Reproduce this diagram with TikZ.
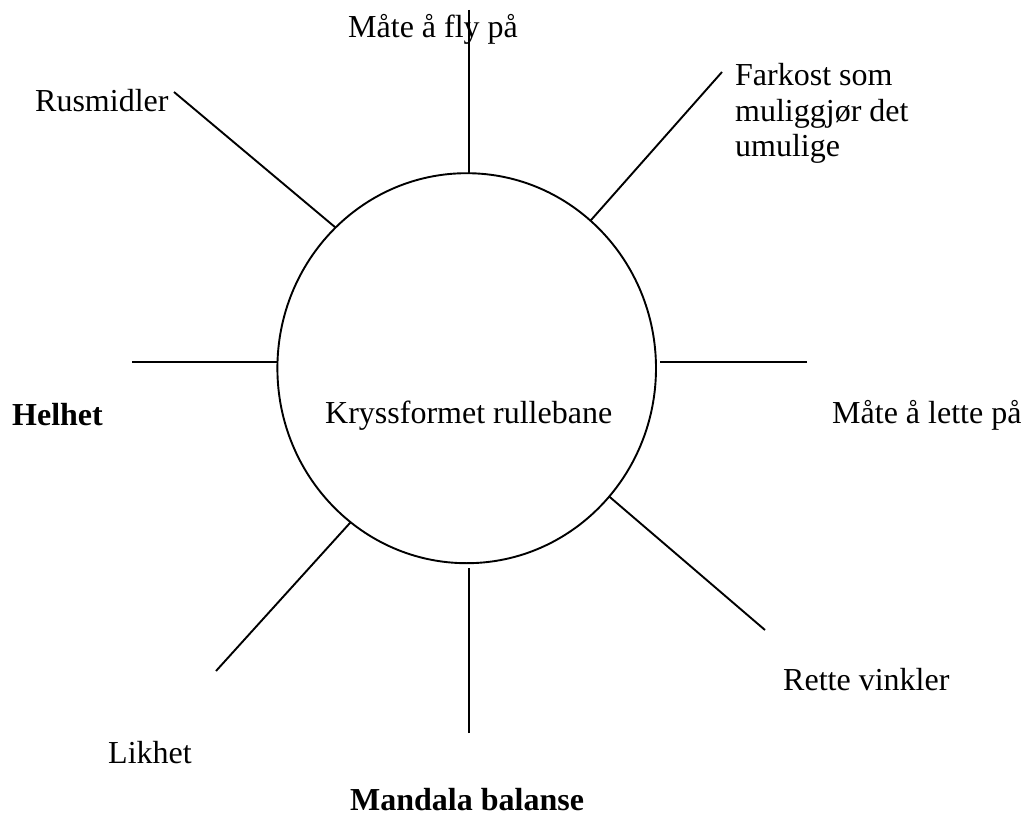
\documentclass[tikz,border=0pt]{standalone}
\usepackage{fontspec}
\setmainfont{Liberation Serif}
\usetikzlibrary{shapes.geometric}
\begin{document}
\begin{tikzpicture}[x=1pt,y=-1pt,
  spoke/.style={line width=1.9pt},
  word/.style={anchor=base west,inner sep=0pt,font=\fontsize{32}{35.5}\selectfont},
  boldword/.style={word,font=\fontsize{32}{35.5}\selectfont\bfseries}]
  \useasboundingbox (0,0) rectangle (1029,816);

  % central oval
  \node[draw,ellipse,line width=1.9pt,minimum width=378.6pt,minimum height=390pt,
        inner sep=0pt,outer sep=0pt] (ring) at (466.7,368.2) {};
  \node[word] (hub) at (325,423) {Kryssformet rullebane};

  % outer ends of the spokes
  \coordinate (eTop)   at (469,10);
  \coordinate (eNE)    at (722,72);
  \coordinate (eNW)    at (174,92);
  \coordinate (eW)     at (132,362);
  \coordinate (eE)     at (807,362);
  \coordinate (eSE)    at (765,630);
  \coordinate (eS)     at (469,733);
  \coordinate (eSW)    at (216,671);

  % spokes
  \draw[spoke] (eTop) -- (eTop |- ring.north);
  \draw[spoke] (eNE)  -- (ring.50.6);
  \draw[spoke] (eNW)  -- (ring.133.85);
  \draw[spoke] (eW)   -- (eW -| ring.west);
  \draw[spoke,shorten >=3.5pt] (eE) -- (eE -| ring.east);
  \draw[spoke] (eSE)  -- (ring.-42.15);
  \draw[spoke,shorten >=5pt] (eS) -- (eS |- ring.south);
  \draw[spoke] (eSW)  -- (ring.-127.5);

  % labels
  \node[word] (fly)     at (348,38)  {Måte å fly på};
  \node[word] (rus)     at (35,111)  {Rusmidler};
  \node[word,align=left] (farkost) at (735,157) {Farkost som\\muliggjør det\\umulige};
  \node[boldword] (helhet)  at (12,425)  {Helhet};
  \node[word] (lette)   at (832,423) {Måte å lette på};
  \node[word] (rette)   at (783,690) {Rette vinkler};
  \node[word] (likhet)  at (108,763) {Likhet};
  \node[boldword] (mandala) at (350,810) {Mandala balanse};
\end{tikzpicture}
\end{document}
